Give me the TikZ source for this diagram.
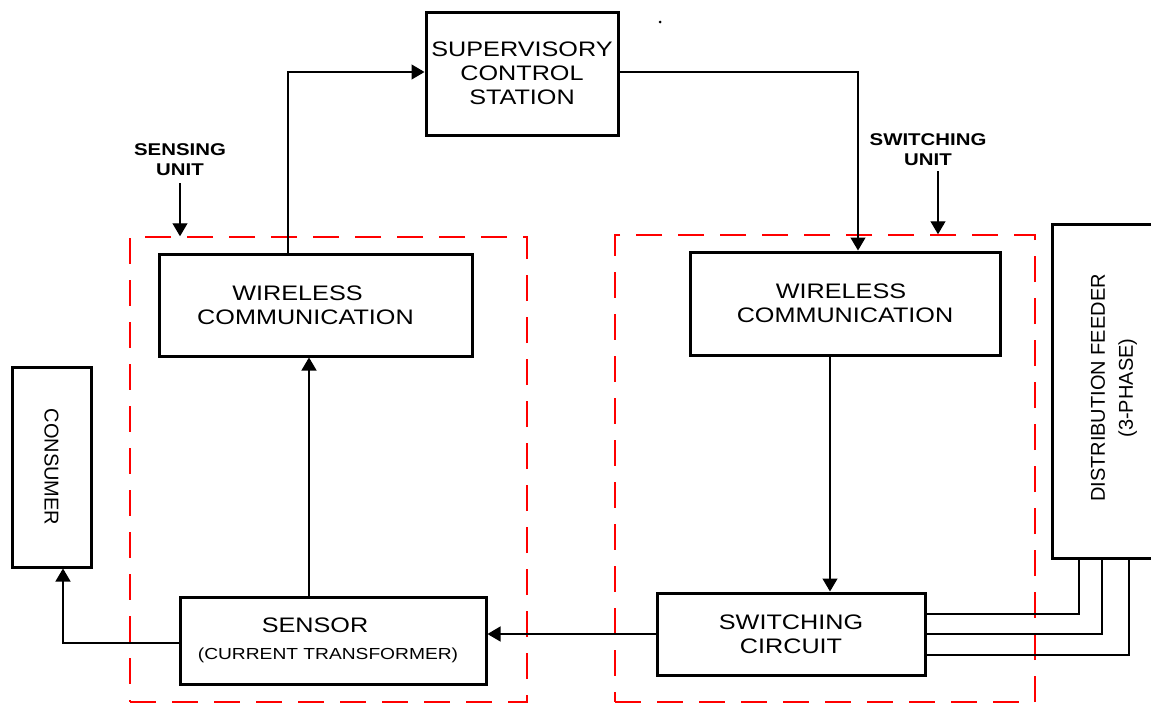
\documentclass[tikz,border=0pt]{standalone}
\usepackage{fontspec}
\setmainfont{Liberation Sans}[FakeStretch=1.2]
\newfontfamily\rotfont{Liberation Sans}
\usetikzlibrary{arrows.meta}
\tikzset{
  blk/.style={draw, line width=3pt, rectangle, inner sep=0pt, align=center,
    font=\fontsize{21}{24}\selectfont},
  dbox/.style={draw=red, line width=1.5pt, dash pattern=on 26pt off 16pt, rectangle, inner sep=0pt},
  arr/.style={line width=1.3pt, -{Triangle[width=15pt,length=13pt]}},
  ln/.style={line width=1.3pt},
  lbl/.style={font=\bfseries\fontsize{17}{20}\selectfont, align=center, inner sep=1pt}
}
\begin{document}
\begin{tikzpicture}[x=1pt,y=-1pt]
\useasboundingbox (0,0) rectangle (1151,704);
\fill[white] (0,0) rectangle (1151,704);
% dashed unit boxes
\node[dbox, minimum width=397pt, minimum height=465pt] (sbox) at (328.5,469.5) {};
\node[dbox, minimum width=420pt, minimum height=467pt] (wbox) at (825,468.5) {};
% blocks
\node[blk, minimum width=192pt, minimum height=123pt] (sup) at (522,73.5) {SUPERVISORY\\CONTROL\\STATION};
\node[blk, minimum width=313pt, minimum height=102pt] (lw) at (315.5,305) {WIRELESS\hspace*{36pt}\\COMMUNICATION\hspace*{20pt}};
\node[blk, minimum width=310pt, minimum height=103pt] (rw) at (845,303.5) {WIRELESS\hspace*{8pt}\\COMMUNICATION};
\node[blk, minimum width=268pt, minimum height=82pt] (sw) at (791,634) {SWITCHING\\CIRCUIT};
\node[blk, minimum width=306pt, minimum height=87pt] (sen) at (333,640.5) {SENSOR\hspace*{36pt}\\[3pt]{\fontsize{16}{19}\selectfont(CURRENT TRANSFORMER)}\hspace*{10pt}};
\node[blk, minimum width=79pt, minimum height=200pt] (cons) at (51.5,467) {};
\node[rotate=-90, font=\rotfont\fontsize{20}{24}\selectfont] (constxt) at (cons.center) {CONSUMER};
\node[blk, minimum width=118pt, minimum height=334pt] (feed) at (1111,391) {};
\node[rotate=90, align=center, font=\rotfont\fontsize{20}{28}\selectfont] (feedtxt) at (1114,388) {DISTRIBUTION FEEDER\\(3-PHASE)};
% labels
\node[lbl] (slbl) at (180,160) {SENSING\\UNIT};
\node[lbl] (wlbl) at (928,150) {SWITCHING\\UNIT};
\draw[arr] ([yshift=-6pt]slbl.south) -- (slbl.south |- sbox.north);
\draw[arr] ([xshift=10pt,yshift=-4pt]wlbl.south) -- ([xshift=10pt]wlbl.south |- wbox.north);
% connectors
\draw[arr] ([xshift=-27.5pt]lw.north) |- ([yshift=1.5pt]sup.west);
\draw[arr] ([yshift=1.5pt]sup.east) -| ([xshift=13pt]rw.north);
\draw[arr] ([xshift=-15pt]rw.south) -- ([xshift=-15pt]rw.south |- sw.north);
\draw[arr] ([xshift=-24pt]sen.north) -- ([xshift=-24pt]sen.north |- lw.south);
\draw[arr] (sw.west) -- (sen.east |- sw.west);
\draw[arr] ([yshift=-2.5pt]sen.west) -| ([xshift=11.5pt]cons.south);
% three-phase lines
\draw[ln] ([xshift=-32pt]feed.south) |- ([yshift=20pt]sw.east);
\draw[ln] ([xshift=-9pt]feed.south) |- (sw.east);
\draw[ln] ([xshift=18pt]feed.south) |- ([yshift=-21pt]sw.east);
% stray dot
\fill (660,22) circle (1.5pt);
\end{tikzpicture}
\end{document}
